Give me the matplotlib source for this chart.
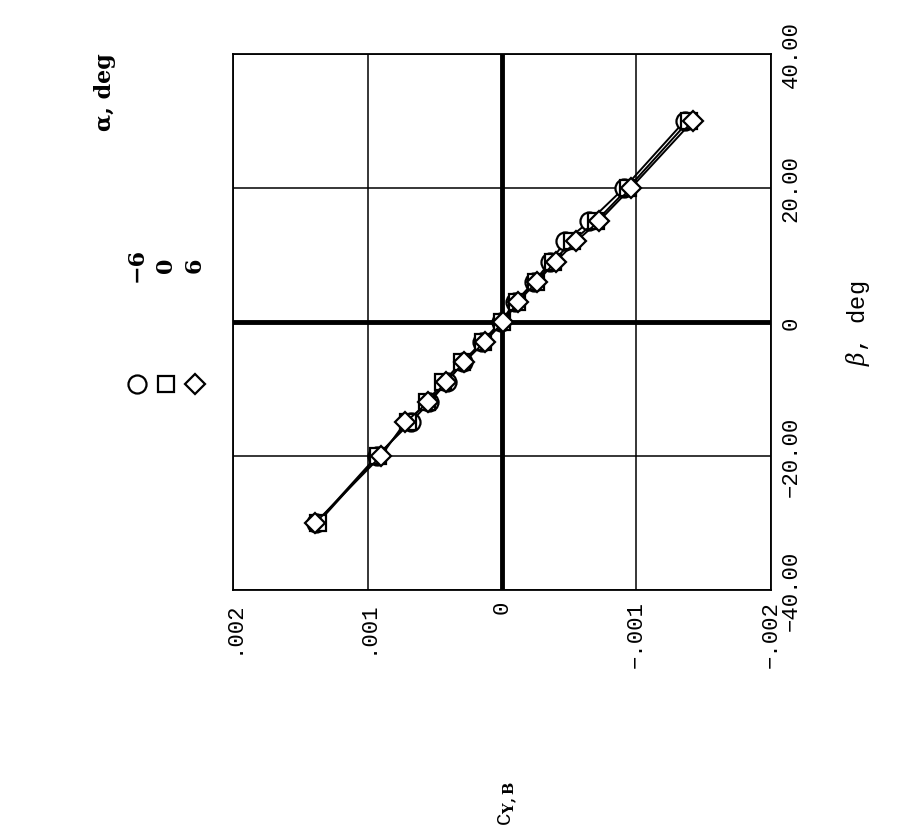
import numpy as np
import matplotlib.pyplot as plt
from matplotlib.lines import Line2D

plt.rcParams['font.family'] = ['Liberation Mono', 'DejaVu Sans']
plt.rcParams['mathtext.fontset'] = 'dejavuserif'

# sideslip sweep, deg
beta = [-30, -20, -15, -12, -9, -6, -3, 0, 3, 6, 9, 12, 15, 20, 30]

# side force coefficient for each angle of attack
cy_m6 = [.00138, .00093, .00068, .00054, .00041, .00029, .00015, .00001,
         -.00010, -.00024, -.00036, -.00047, -.00065, -.00091, -.00136]
cy_0 = [.00137, .00092, .00070, .00056, .00044, .00030, .00014, .00000,
        -.00011, -.00025, -.00038, -.00052, -.00070, -.00094, -.00139]
cy_p6 = [.00139, .00090, .00072, .00055, .00042, .00028, .00013, -.00001,
         -.00012, -.00026, -.00040, -.00055, -.00072, -.00096, -.00142]

alphas = ['\u22126', '0', '6']
markers = ['o', 's', 'D']
msize = {'o': 13, 's': 11, 'D': 10}

cy_ticks = [.002, .001, 0, -.001, -.002]
cy_labels = ['.002', '.001', '0', '\u2212.001', '\u2212.002']
beta_ticks = [-40, -20, 0, 20, 40]
beta_labels = ['\u221240.00', '\u221220.00', '0', '20.00', '40.00']

fig = plt.figure(figsize=(8.98, 8.29), dpi=100)
ax = fig.add_axes([0.2595, 0.287, 0.599, 0.647])

for cy, m in zip([cy_m6, cy_0, cy_p6], markers):
    ax.plot(cy, beta, color='k', linewidth=1.4, marker=m,
            markersize=msize[m], markerfacecolor='white',
            markeredgecolor='k', markeredgewidth=1.6)

ax.set_xlim(.002, -.002)
ax.set_ylim(-40, 40)
ax.set_xticks(cy_ticks)
ax.set_xticklabels(cy_labels, rotation=90, fontsize=16)
ax.set_yticks(beta_ticks)
ax.set_yticklabels(beta_labels, rotation=90, fontsize=16, va='center')
ax.yaxis.tick_right()
ax.tick_params(length=0, pad=7)
ax.grid(True, color='k', linewidth=1.1)
ax.axvline(0, color='k', linewidth=3.5, zorder=1)
ax.axhline(0, color='k', linewidth=3.5, zorder=1)
for s in ax.spines.values():
    s.set_linewidth(1.3)

fig.text(0.955, 0.61, r'$\beta$, deg', rotation=90, fontsize=17,
         ha='center', va='center')
fig.text(0.566, 0.03, r'C$_{\mathbf{Y,B}}$', rotation=90, fontsize=15,
         ha='center', va='center')

# key above the plot, reading bottom to top
fig.text(105 / 898, 1 - 92 / 829, '\u03b1, deg', rotation=90, fontsize=16,
         fontweight='bold', family='DejaVu Serif', ha='center', va='center')
for i, (a, m) in enumerate(zip(alphas, markers)):
    xf = (137 + 29 * i) / 898
    fig.text(xf, 1 - 265 / 829, a, rotation=90, fontsize=16,
             fontweight='bold', family='DejaVu Serif', ha='center', va='center')
    fig.add_artist(Line2D([xf], [1 - 385 / 829], transform=fig.transFigure,
                          marker=m, markersize=msize[m],
                          markerfacecolor='white', markeredgecolor='k',
                          markeredgewidth=1.6, linestyle='none'))

fig.savefig('out.png', dpi=100)
